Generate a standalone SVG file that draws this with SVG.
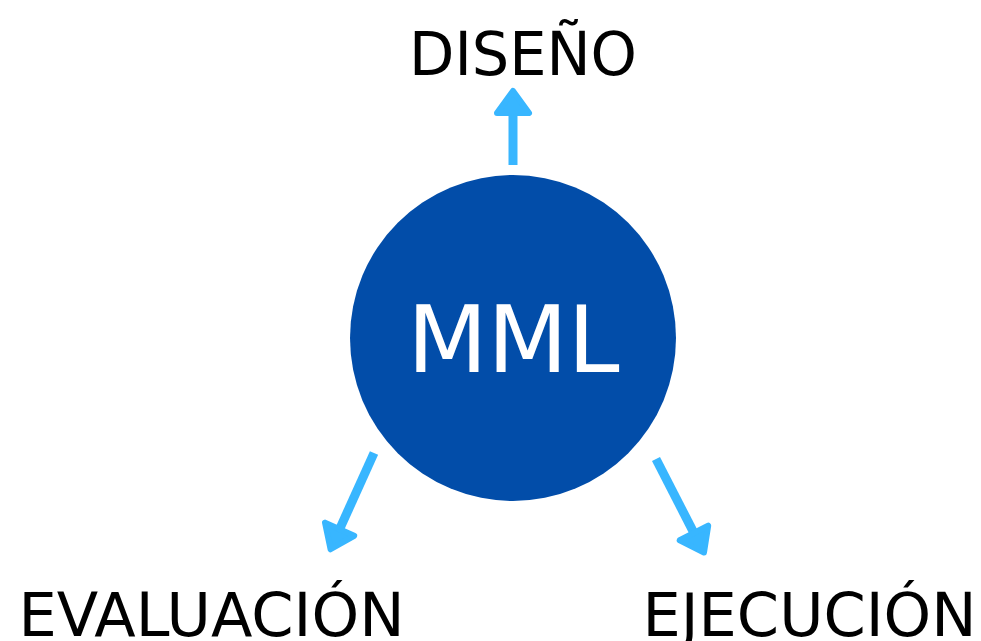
<svg xmlns="http://www.w3.org/2000/svg" width="981" height="641" viewBox="0 0 981 641">
<style>
.lbl{font-family:"DejaVu Sans",Verdana,sans-serif;font-size:61px;fill:#000;text-anchor:middle}
.core{font-family:"DejaVu Sans",Verdana,sans-serif;font-size:93px;fill:#fff;text-anchor:middle}
.arr{stroke:#38b6ff;stroke-width:9;fill:none}
</style>
<defs>
<marker id="head" markerUnits="userSpaceOnUse" viewBox="-5 -21 32 42" markerWidth="32" markerHeight="42" refX="8" refY="0" orient="auto">
<path d="M0,-16 L22,0 L0,16 Z" fill="#38b6ff" stroke="#38b6ff" stroke-width="6" stroke-linejoin="round"/>
</marker>
</defs>
<rect width="981" height="641" fill="#fff"/>
<g id="connectors">
<line class="arr" x1="513" y1="165" x2="513" y2="105" marker-end="url(#head)"/>
<line class="arr" x1="374" y1="453" x2="336.3" y2="536.5" marker-end="url(#head)"/>
<line class="arr" x1="656" y1="459" x2="697.6" y2="540.1" marker-end="url(#head)"/>
</g>
<g id="mml">
<circle cx="513" cy="338" r="163" fill="#024da9"/>
<text class="core" x="513.5" y="372">MML</text>
</g>
<g id="diseno"><text class="lbl" x="523" y="75" textLength="228" lengthAdjust="spacingAndGlyphs">DISEÑO</text></g>
<g id="evaluacion"><text class="lbl" x="211.5" y="636" textLength="386" lengthAdjust="spacingAndGlyphs">EVALUACIÓN</text></g>
<g id="ejecucion"><text class="lbl" x="809.5" y="636" textLength="334" lengthAdjust="spacingAndGlyphs">EJECUCIÓN</text></g>
</svg>
